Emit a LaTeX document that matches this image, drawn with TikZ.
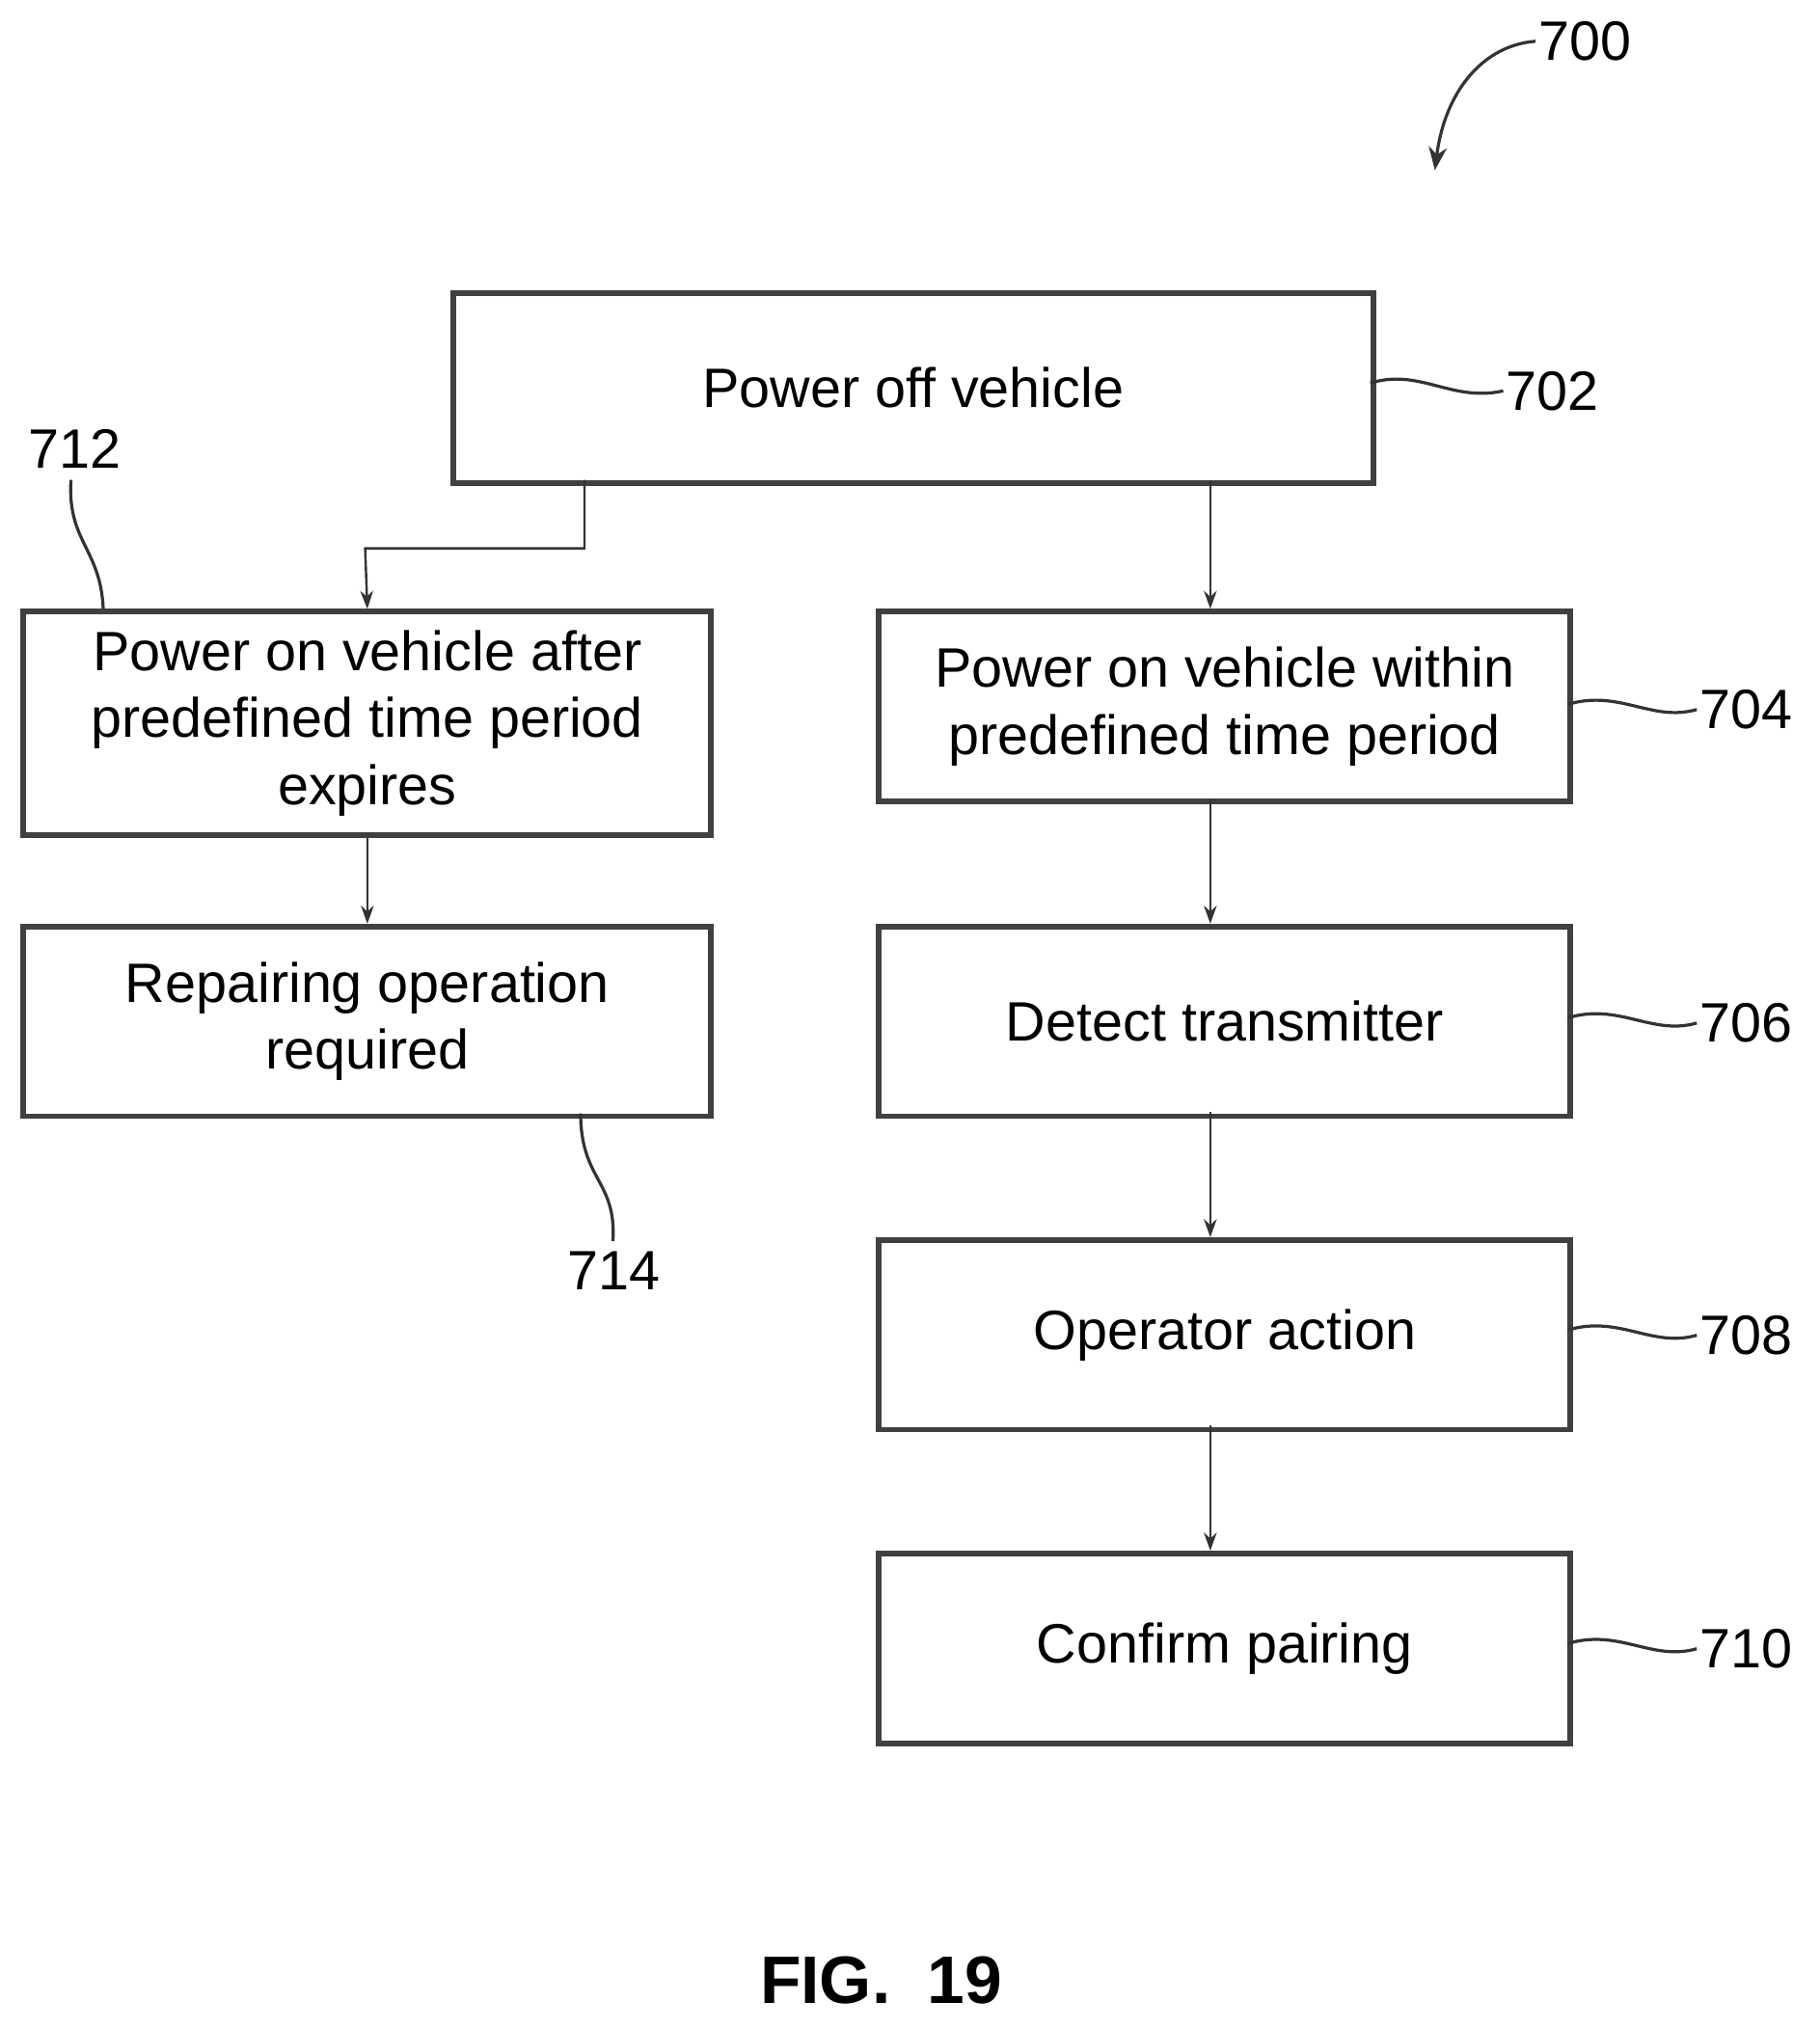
\documentclass[tikz,border=0pt]{standalone}
\usetikzlibrary{arrows.meta}
\usepackage{fontspec}
\setmainfont{Liberation Sans}
\begin{document}
\begin{tikzpicture}[x=0.5pt,y=-0.5pt,
  box/.style={draw=black!75,line width=2.2pt,inner sep=0pt,align=center,font=\fontsize{21.5}{26}\selectfont},
  lab/.style={font=\fontsize{21.5}{26}\selectfont,inner sep=1pt},
  arr/.style={draw=black!80,line width=0.9pt,-{Stealth[length=7pt,width=5pt]}},
  lead/.style={draw=black!80,line width=1.2pt}]
\useasboundingbox (0,0) rectangle (1410,1572);
\node[box,anchor=north west,minimum width=356.5pt,minimum height=73.5pt] (b702) at (349,225) {Power off vehicle};
\node[box,anchor=north west,minimum width=266.5pt,minimum height=86.5pt] (b712) at (16,472) {Power on vehicle after\\predefined time period\\expires};
\node[box,anchor=north west,minimum width=266.5pt,minimum height=73.5pt] (b714) at (16,716) {Repairing operation\\required};
\node[box,anchor=north west,minimum width=268pt,minimum height=73.5pt] (b704) at (679,472) {Power on vehicle within\\predefined time period};
\node[box,anchor=north west,minimum width=268pt,minimum height=73.5pt] (b706) at (679,716) {Detect transmitter};
\node[box,anchor=north west,minimum width=268pt,minimum height=73.5pt] (b708) at (679,959) {Operator action};
\node[box,anchor=north west,minimum width=268pt,minimum height=73.5pt] (b710) at (679,1202) {Confirm pairing};
\coordinate (s1) at (453,372);
\coordinate (k1) at (453,425);
\coordinate (k2) at (283,425);
\draw[arr] (s1) -- (k1) -- (k2) -- (b712.north);
\draw[arr] (938,372) -- (938,472);
\draw[arr] (b712.south) -- (b714.north);
\draw[arr] (938,619) -- (938,716);
\draw[arr] (938,862) -- (938,959);
\draw[arr] (938,1105) -- (938,1202);
\node[lab,anchor=west] (l702) at (1165,303) {702};
\node[lab,anchor=west] (l704) at (1315,550) {704};
\node[lab,anchor=west] (l706) at (1315,793) {706};
\node[lab,anchor=west] (l708) at (1315,1035) {708};
\node[lab,anchor=west] (l710) at (1315,1278) {710};
\node[lab] (l712) at (58,348) {712};
\node[lab] (l714) at (476,985) {714};
\node[lab,anchor=west] (l700) at (1190,32) {700};
\draw[lead] (1062,297) .. controls (1100,285) and (1125,312) .. (l702.west);
\draw[lead] (1215,546) .. controls (1255,534) and (1280,560) .. (l704.west);
\draw[lead] (1215,789) .. controls (1255,777) and (1280,803) .. (l706.west);
\draw[lead] (1215,1031) .. controls (1255,1019) and (1280,1045) .. (l708.west);
\draw[lead] (1215,1274) .. controls (1255,1262) and (1280,1288) .. (l710.west);
\draw[lead] (80,472) .. controls (78,425) and (52,420) .. (55,372);
\draw[lead] (450,863) .. controls (450,915) and (478,915) .. (475,962);
\draw[lead,-{Stealth[length=9pt,width=7pt]}] (l700.west) .. controls (1150,35) and (1120,70) .. (1112,132);
\node[font=\bfseries\fontsize{26}{30}\selectfont] (fig) at (683,1535) {FIG.\ \ 19};
\end{tikzpicture}
\end{document}
